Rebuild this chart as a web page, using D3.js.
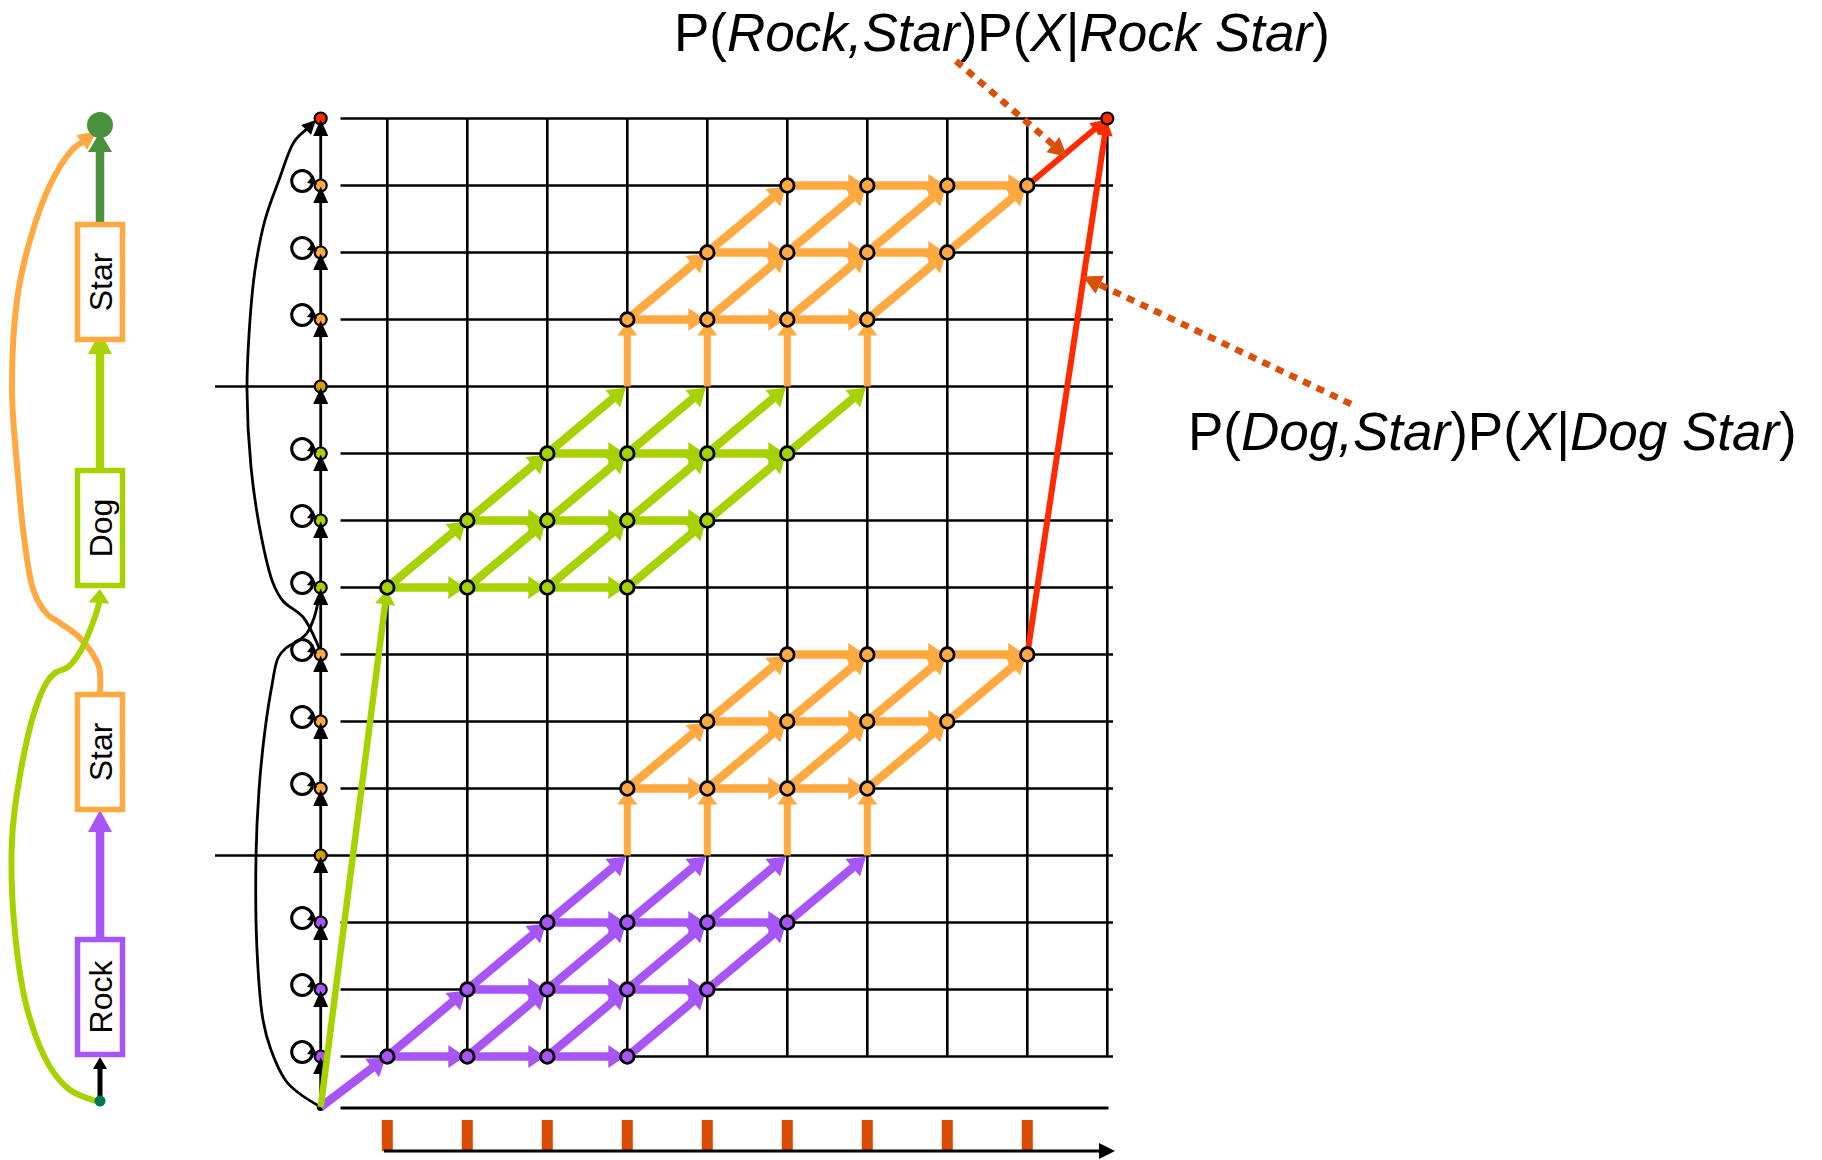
<!DOCTYPE html>
<html><head><meta charset="utf-8">
<script src="https://cdn.jsdelivr.net/npm/d3@7"></script>
<style>body{margin:0;background:#fff} svg{display:block}</style>
</head><body>
<svg id="c" width="1822" height="1160"></svg>
<script>
// ---------------- data ----------------
const words = ["Rock", "Star", "Dog", "Star"];          // bottom -> top
const wordRowBottom = [14, 10, 7, 3];                     // grid row of each word's first state
const wordColStart = [0, 3, 0, 3];                        // first frame of each word's first state
const statesPerWord = 3;
const framesPerState = 4;
const separatorRows = [11, 4];                            // word-end rows (Rock end, Dog end)
const nRows = 15, nCols = 10;
const endRow = 0, endCol = 9;
const frameTicks = [0, 1, 2, 3, 4, 5, 6, 7, 8];
const label1 = [["P(", 0], ["Rock,Star", 1], [")P(", 0], ["X", 1], ["|", 0], ["Rock Star", 1], [")", 0]];
const label2 = [["P(", 0], ["Dog,Star", 1], [")P(", 0], ["X", 1], ["|", 0], ["Dog Star", 1], [")", 0]];

// ---------------- styles ----------------
const COL = { Rock: "#A855F7", Star: "#FFA940", Dog: "#A6D300" };
const RED = "#FF2A00", GOLD = "#D4A000", END_GREEN = "#4A913D", START_GREEN = "#007A4E";
const DOT = "#D9500A", TICK = "#D94A00";
const FONT = "'Liberation Sans', Arial, Helvetica, sans-serif";

const svg = d3.select("#c");
const x = d3.scaleLinear().domain([0, nCols - 1]).range([387.3, 1107.3]);
const y = d3.scaleLinear().domain([0, nRows - 1]).range([118.5, 1056.5]);
const axisX = 320.7, startY = 1107;

function head(g, tip, dir, len, half, color) {
  const [ux, uy] = dir;
  const b = [tip[0] - ux * len, tip[1] - uy * len];
  g.append("path")
    .attr("d", `M${tip[0]},${tip[1]}L${b[0] - uy * half},${b[1] + ux * half}L${b[0] + uy * half},${b[1] - ux * half}Z`)
    .attr("fill", color);
  return b;
}
function arrow(g, p1, p2, o) {
  const gap = o.gap || 0;
  const dx = p2[0] - p1[0], dy = p2[1] - p1[1], L = Math.hypot(dx, dy), ux = dx / L, uy = dy / L;
  const tip = [p2[0] - ux * gap, p2[1] - uy * gap];
  const b = [tip[0] - ux * o.len, tip[1] - uy * o.len];
  g.append("line").attr("x1", p1[0]).attr("y1", p1[1]).attr("x2", b[0] + ux).attr("y2", b[1] + uy)
    .attr("stroke", o.color).attr("stroke-width", o.width).attr("stroke-dasharray", o.dash || null);
  head(g, tip, [ux, uy], o.len, o.half, o.color);
}
function curveArrow(g, pts, o) {
  const n = pts.length, tip = pts[n - 1], prev = pts[n - 2];
  const dx = tip[0] - prev[0], dy = tip[1] - prev[1], L = Math.hypot(dx, dy);
  const dir = [dx / L, dy / L];
  const pp = pts.slice();
  if (o.len) {
    pp[n - 1] = [tip[0] - dir[0] * (o.len - 1), tip[1] - dir[1] * (o.len - 1)];
  }
  g.append("path").attr("d", d3.line().curve(d3.curveCatmullRom.alpha(0.5))(pp))
    .attr("fill", "none").attr("stroke", o.color).attr("stroke-width", o.width);
  if (o.len) head(g, tip, dir, o.len, o.half, o.color);
}

// ---------------- grid ----------------
const grid = svg.append("g").attr("stroke", "#000").attr("stroke-width", 2.6);
d3.range(nCols).forEach(c => grid.append("line").attr("x1", x(c)).attr("x2", x(c)).attr("y1", y(0)).attr("y2", y(nRows - 1)));
d3.range(nRows).forEach(r => grid.append("line")
  .attr("x1", separatorRows.includes(r) ? 215 : 340.5).attr("x2", 1113)
  .attr("y1", y(r)).attr("y2", y(r)));
grid.append("line").attr("x1", 340.5).attr("x2", 1108.5).attr("y1", 1108).attr("y2", 1108).attr("stroke-width", 3.2);

// frame ticks + time axis
svg.append("g").selectAll("rect").data(frameTicks).join("rect")
  .attr("x", d => x(d) - 5.5).attr("width", 11).attr("y", 1120).attr("height", 31).attr("fill", TICK);
arrow(svg, [384, 1151], [1115, 1151], { color: "#000", width: 3.2, len: 16, half: 8 });

// ---------------- left axis (HMM states) ----------------
function rowColor(r) {
  if (r === 0) return RED;
  if (separatorRows.includes(r)) return GOLD;
  for (let i = 0; i < words.length; i++) {
    const rb = wordRowBottom[i];
    if (r <= rb && r > rb - statesPerWord) return COL[words[i]];
  }
  return "#000";
}
const stateRows = d3.range(nRows).filter(r => r !== 0 && !separatorRows.includes(r));
const ax = svg.append("g");
// long black transitions
curveArrow(ax, [[320.7, 654], [317, 643], [303, 617], [283, 601], [273, 583], [261, 535], [251, 467], [247, 390],
  [250, 320], [255, 270], [265, 220], [279, 180], [294, 142], [316, 120]], { color: "#000", width: 2.8, len: 14, half: 7 });
curveArrow(ax, [[320.7, startY], [300, 1094], [286, 1081], [271, 1050], [263, 1020], [257, 950], [256, 857], [259, 790],
  [265, 730], [272, 685], [278, 658], [286, 648], [298, 641], [307, 633], [314, 618], [319, 598], [320.7, 590]], { color: "#000", width: 2.8 });
ax.append("line").attr("x1", axisX).attr("x2", axisX).attr("y1", startY).attr("y2", y(0)).attr("stroke", "#000").attr("stroke-width", 2.8);
ax.selectAll("circle.n").data(d3.range(nRows)).join("circle").attr("class", "n")
  .attr("cx", axisX).attr("cy", d => y(d)).attr("r", 6)
  .attr("fill", d => rowColor(d)).attr("stroke", "#000").attr("stroke-width", 2.2);
ax.append("circle").attr("cx", axisX).attr("cy", startY).attr("r", 4).attr("fill", "#000");
// upward arrowheads on the axis
d3.range(nRows).forEach(r => head(ax, [axisX, y(r) + 1], [0, -1], 16.5, 7.5, "#000"));
// self loops
stateRows.forEach(r => {
  ax.append("circle").attr("cx", axisX - 18.5).attr("cy", y(r) - 4.5).attr("r", 10.5)
    .attr("fill", "none").attr("stroke", "#000").attr("stroke-width", 3);
  head(ax, [axisX - 3.5, y(r) - 1], [0.8, 0.6], 9, 5, "#000");
});

// ---------------- trellis paths ----------------
const edges = svg.append("g"), nodes = [];
const W = 8.5, HL = 17, HH = 11.5;
words.forEach((w, i) => {
  const rb = wordRowBottom[i], cs = wordColStart[i], color = COL[w];
  const endsWord = w !== "Star";
  for (let s = 0; s < statesPerWord; s++) {
    const row = rb - s, c0 = cs + s;
    const cols = d3.range(c0, c0 + framesPerState);
    cols.forEach(c => nodes.push({ r: row, c, color }));
    cols.slice(0, -1).forEach(c => arrow(edges, [x(c), y(row)], [x(c + 1), y(row)], { color, width: W, len: HL, half: HH, gap: 2 }));
    if (s < statesPerWord - 1 || endsWord) {
      cols.forEach(c => arrow(edges, [x(c), y(row)], [x(c + 1), y(row - 1)], { color, width: W, len: HL, half: HH, gap: 2 }));
    }
  }
  if (endsWord) {
    const sep = rb - statesPerWord, nextColor = COL[words[i + 1]];
    d3.range(cs + statesPerWord, cs + statesPerWord + framesPerState).forEach(c =>
      arrow(edges, [x(c), y(sep)], [x(c), y(sep - 1)], { color: nextColor, width: 7, len: 14, half: 10, gap: 2 }));
  } else {
    const topRow = rb - statesPerWord + 1, lastCol = cs + statesPerWord - 1 + framesPerState - 1;
    arrow(edges, [x(lastCol), y(topRow)], [x(endCol), y(endRow)], { color: RED, width: 6, len: 15, half: 8, gap: 2 });
  }
});
// entries from the start node
arrow(edges, [axisX, startY], [x(0), y(wordRowBottom[0])], { color: COL.Rock, width: W, len: HL, half: HH, gap: 2 });
arrow(edges, [axisX, startY], [x(0), y(wordRowBottom[2])], { color: COL.Dog, width: 6.5, len: 15, half: 10, gap: 2 });

svg.append("g").selectAll("circle").data(nodes).join("circle")
  .attr("cx", d => x(d.c)).attr("cy", d => y(d.r)).attr("r", 6.8)
  .attr("fill", d => d.color).attr("stroke", "#000").attr("stroke-width", 2.8);
svg.append("circle").attr("cx", x(endCol)).attr("cy", y(endRow)).attr("r", 6)
  .attr("fill", RED).attr("stroke", "#000").attr("stroke-width", 2.2);

// ---------------- annotations ----------------
function label(parts, lx, ly) {
  const t = svg.append("text").attr("x", lx).attr("y", ly).attr("font-family", FONT).attr("font-size", 53).attr("fill", "#000");
  parts.forEach(([s, it]) => t.append("tspan").text(s).attr("font-style", it ? "italic" : "normal"));
}
label(label1, 674, 51);
label(label2, 1188, 450);
const r1a = [x(8), y(1)], r1b = [x(endCol), y(endRow)];
const tip1 = [(r1a[0] + r1b[0]) / 2, (r1a[1] + r1b[1]) / 2 + 5];
arrow(svg, [956, 61], tip1, { color: DOT, width: 6.5, len: 19, half: 10, dash: "8,7" });
const r2a = [x(8), y(8)], t2 = 0.705;
const tip2 = [r2a[0] + (r1b[0] - r2a[0]) * t2 - 1, r2a[1] + (r1b[1] - r2a[1]) * t2];
arrow(svg, [1351, 404], tip2, { color: DOT, width: 6.5, len: 19, half: 10, dash: "8,7" });

// ---------------- left word graph ----------------
const lg = svg.append("g");
const lgX = 100, boxW = 45, boxH = 115;
const boxCy = [997, 752, 528, 282];
const endNodeY = 125, startNodeY = 1101;
// curves
curveArrow(lg, [[lgX, 692], [99, 667], [90, 650], [78, 636], [60, 623], [47, 614], [34, 592], [25, 545], [17, 465],
  [12, 390], [17, 300], [30, 240], [50, 185], [72, 150], [97, 131]], { color: COL.Star, width: 6, len: 19, half: 9 });
curveArrow(lg, [[lgX - 4, startNodeY], [70, 1090], [50, 1067], [28, 1012], [15, 933], [12, 840], [20, 775], [35, 710],
  [47, 682], [55, 673], [68, 667], [80, 652], [92, 625], [99, 603], [lgX, 589]], { color: COL.Dog, width: 6, len: 14, half: 10.5 });
// straight arrows
arrow(lg, [lgX, startNodeY], [lgX, boxCy[0] + 60], { color: "#000", width: 5, len: 12, half: 7 });
arrow(lg, [lgX, boxCy[0] - 60], [lgX, boxCy[1] + 58], { color: COL.Rock, width: 8.5, len: 22, half: 12 });
arrow(lg, [lgX, boxCy[2] - 60], [lgX, boxCy[3] + 50], { color: COL.Dog, width: 8.5, len: 22, half: 12 });
arrow(lg, [lgX, boxCy[3] - 60], [lgX, endNodeY + 7], { color: END_GREEN, width: 8.5, len: 20, half: 12 });
lg.append("circle").attr("cx", lgX).attr("cy", endNodeY).attr("r", 13).attr("fill", END_GREEN);
lg.append("circle").attr("cx", lgX).attr("cy", startNodeY).attr("r", 5.5).attr("fill", START_GREEN);
words.forEach((w, i) => {
  lg.append("rect").attr("x", lgX - boxW / 2).attr("y", boxCy[i] - boxH / 2).attr("width", boxW).attr("height", boxH)
    .attr("fill", "#fff").attr("stroke", COL[w]).attr("stroke-width", 5.5);
  lg.append("text").attr("transform", `translate(${lgX + 11.5},${boxCy[i]}) rotate(-90)`)
    .attr("text-anchor", "middle").attr("font-family", FONT).attr("font-size", 32).text(w);
});
</script>
</body></html>
